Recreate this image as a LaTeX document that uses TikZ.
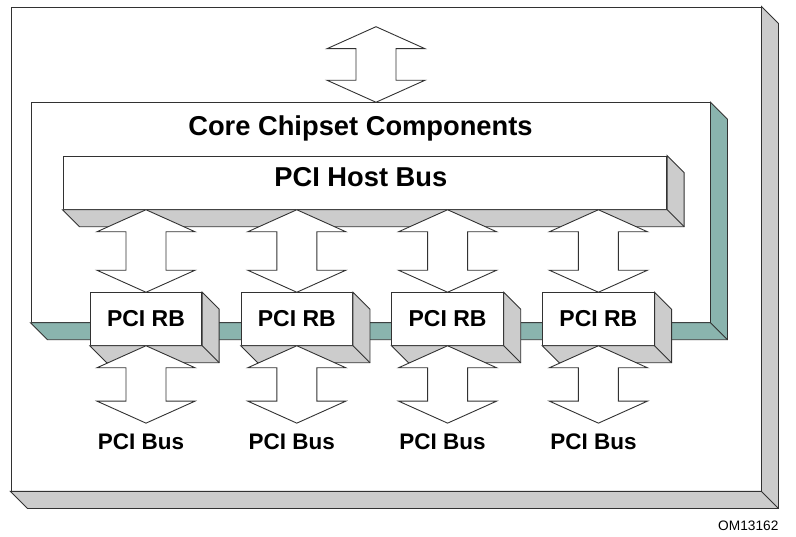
\documentclass[tikz,border=0pt]{standalone}
\usepackage{fontspec}
\setmainfont{Liberation Sans}
\usepackage{tikz}
\usetikzlibrary{calc,positioning}
\definecolor{shade}{RGB}{204,204,204}
\definecolor{teal3d}{RGB}{138,180,174}
\definecolor{edgegray}{RGB}{50,50,50}
\tikzset{
  edge/.style={draw=edgegray,line width=0.9pt},
  face/.style={edge,fill=white,rectangle,inner sep=0pt},
  rbbox/.style={face,minimum width=111.4pt,minimum height=52.6pt,font=\fontsize{23}{26}\bfseries},
  bigtxt/.style={font=\fontsize{27.3}{31}\bfseries,inner sep=0pt},
  bustxt/.style={font=\fontsize{22.5}{26}\bfseries,inner sep=0pt},
  blockarrow/.style={edge,fill=white,line join=miter}
}
% 3D side of a box: right and bottom faces, depth 17
\newcommand{\boxshade}[2]{%
  \filldraw[edge,fill=#2] (#1.north east) -- ++(17,17) -- ([shift={(17,17)}]#1.south east)
     -- ([shift={(17,17)}]#1.south west) -- (#1.south west) -- (#1.south east) -- cycle;
  \draw[edge] (#1.south east) -- ++(17,17);}
% double block arrow between two points on one vertical line
\newcommand{\busarrow}[2]{%
  \filldraw[blockarrow] let \p1=(#1), \p2=(#2) in
    (\x1,\y1) -- (\x1+49pt,\y1-22pt) -- (\x1+20pt,\y1-22pt) -- (\x1+20pt,\y2+22pt)
    -- (\x1+49pt,\y2+22pt) -- (\x1,\y2) -- (\x1-49pt,\y2+22pt) -- (\x1-20pt,\y2+22pt)
    -- (\x1-20pt,\y1-22pt) -- (\x1-49pt,\y1-22pt) -- cycle;}

\begin{document}
\begin{tikzpicture}[x=1pt,y=-1pt]
  \useasboundingbox (0,0) rectangle (796,537);

  % outer frame
  \node[face,minimum width=750pt,minimum height=484pt] (frame) at (386,249) {};
  \boxshade{frame}{shade}

  % core chipset box
  \node[face,minimum width=679pt,minimum height=219.6pt] (core) at (370.5,212.5) {};
  \boxshade{core}{teal3d}
  \node[bigtxt] (coretxt) at (360.5,128) {Core Chipset Components};

  % host bus
  \node[face,minimum width=603.7pt,minimum height=53.3pt] (host) at (364.85,182.65) {};
  \boxshade{host}{shade}
  \node[bigtxt] (hosttxt) at ([xshift=-4pt,yshift=6pt]host.center) {PCI Host Bus};

  % link to the top
  \coordinate (up) at (core.north -| 376,0);
  \coordinate (uptop) at (376,26.7);
  \busarrow{uptop}{up}

  % root bridges
  \foreach \i in {1,...,4}{
    \node[rbbox] (rb\i) at ({146+150.8*(\i-1)},319) {PCI RB};
    \boxshade{rb\i}{shade}
  }
  \foreach \i in {1,...,4}{
    \coordinate (hb\i) at (host.south -| rb\i.north);
    \busarrow{hb\i}{rb\i.north}
    \coordinate (bus\i) at ([yshift=-77.4pt]rb\i.south);
    \busarrow{rb\i.south}{bus\i}
    \node[bustxt] (bustxt\i) at ([xshift=-5pt,yshift=-19pt]bus\i) {PCI Bus};
  }

  \node[font=\fontsize{13.7}{16}\selectfont,inner sep=0pt] (fig) at (748.3,526) {OM13162};
\end{tikzpicture}
\end{document}
